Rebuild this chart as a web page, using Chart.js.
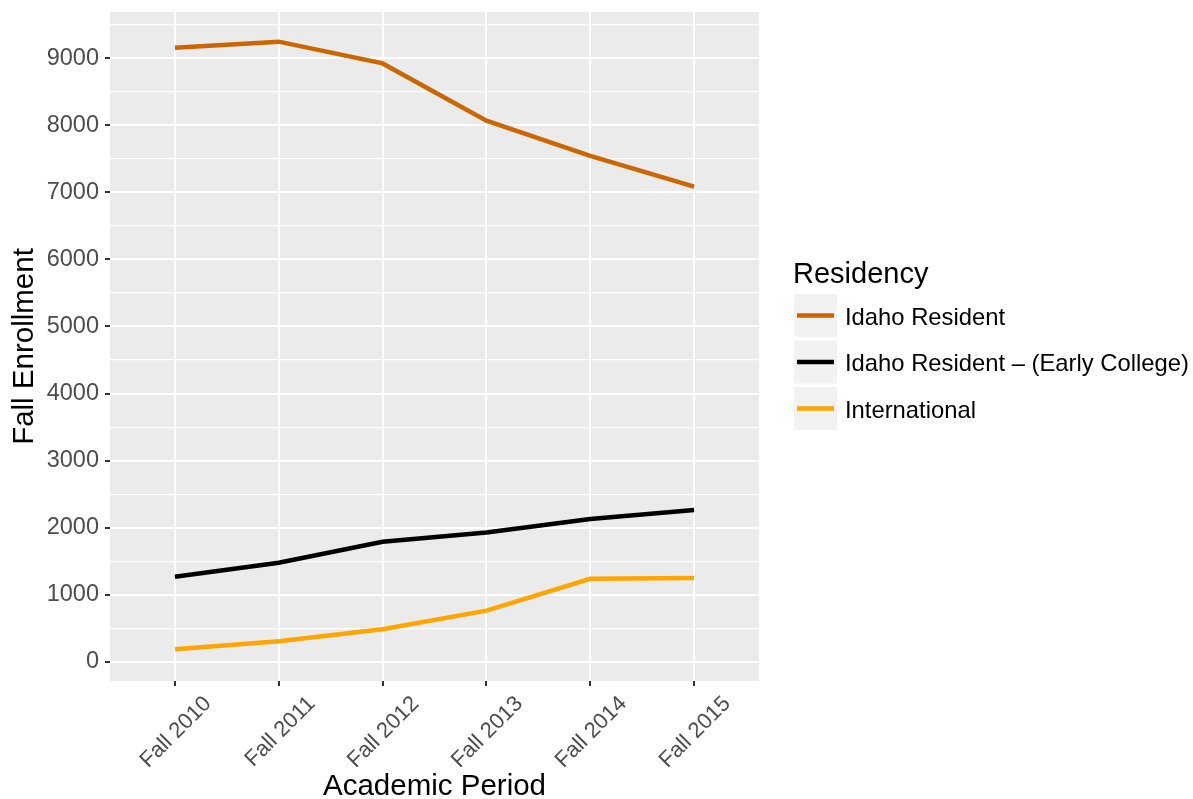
<!DOCTYPE html>
<html lang="en">
<head>
    <meta charset="UTF-8">
    <title>Fall Enrollment by Residency</title>
    <script src="https://cdn.jsdelivr.net/npm/chart.js"></script>
    <style>
        body { margin: 0; background: #fff; }
        #grafico { width: 1193px; height: 799px; }
    </style>
</head>
<body>
    <div id="grafico">
        <canvas id="myChart"></canvas>
    </div>

<script>
    // dados
    const periodos = ['Fall 2010', 'Fall 2011', 'Fall 2012', 'Fall 2013', 'Fall 2014', 'Fall 2015'];
    const idahoResident = [9155, 9244, 8920, 8067, 7541, 7084];
    const earlyCollege = [1270, 1480, 1793, 1930, 2130, 2265];
    const international = [189, 308, 487, 765, 1241, 1250];

    const nomesSeries = ['Idaho Resident', 'Idaho Resident \u2013 (Early College)', 'International'];
    const coresSeries = ['#CC6600', '#000000', '#FFA500'];

    const yTicks = [0, 1000, 2000, 3000, 4000, 5000, 6000, 7000, 8000, 9000];

    const fonte = '"Liberation Sans", Arial, sans-serif';

    function pontos(valores) {
        return valores.map((v, i) => ({ x: i, y: v }));
    }

    // fundo cinza do painel
    const fundoPainel = {
        id: 'fundoPainel',
        beforeDraw(chart) {
            const { ctx, chartArea } = chart;
            ctx.save();
            ctx.fillStyle = '#EBEBEB';
            ctx.fillRect(chartArea.left, chartArea.top, chartArea.right - chartArea.left, chartArea.bottom - chartArea.top);
            ctx.restore();
        }
    };

    // legenda no estilo ggplot
    const legendaGG = {
        id: 'legendaGG',
        afterDraw(chart) {
            const ctx = chart.ctx;
            ctx.save();
            ctx.fillStyle = '#000';
            ctx.font = '29px ' + fonte;
            ctx.textBaseline = 'alphabetic';
            ctx.textAlign = 'left';
            ctx.fillText('Residency', 793, 283);

            chart.data.datasets.forEach((ds, i) => {
                const top = 294 + i * 46.5;
                ctx.fillStyle = '#F2F2F2';
                ctx.fillRect(794, top, 43, 43);
                ctx.strokeStyle = ds.borderColor;
                ctx.lineWidth = 4.5;
                ctx.beginPath();
                ctx.moveTo(797, top + 21.5);
                ctx.lineTo(834, top + 21.5);
                ctx.stroke();
                ctx.fillStyle = '#000';
                ctx.font = '23.8px ' + fonte;
                ctx.textBaseline = 'middle';
                ctx.fillText(ds.label, 845, top + 24);
            });
            ctx.restore();
        }
    };

    const series = [idahoResident, earlyCollege, international];

    const dados = {
        datasets: series.map((valores, i) => ({
            label: nomesSeries[i],
            data: pontos(valores),
            borderColor: coresSeries[i],
            backgroundColor: coresSeries[i],
            borderWidth: 4.5,
            pointRadius: 0,
            tension: 0,
            fill: false
        }))
    };

    const config = {
        type: 'line',
        data: dados,
        plugins: [fundoPainel, legendaGG],
        options: {
            responsive: true,
            maintainAspectRatio: false,
            animation: false,
            layout: { padding: { top: 12, right: 434, left: 0, bottom: 0 } },
            plugins: {
                legend: { display: false },
                tooltip: { enabled: false }
            },
            scales: {
                x: {
                    type: 'linear',
                    min: -0.625,
                    max: 5.625,
                    afterBuildTicks(scale) {
                        scale.ticks = periodos.map((p, i) => ({ value: i }));
                    },
                    afterFit(scale) {
                        scale.height = 118;
                        scale.paddingLeft = 0;
                        scale.paddingRight = 0;
                    },
                    border: { display: false },
                    grid: {
                        color: '#FFFFFF',
                        lineWidth: 2,
                        tickColor: '#333333',
                        tickWidth: 2,
                        tickLength: 5
                    },
                    ticks: {
                        autoSkip: false,
                        maxRotation: 45,
                        minRotation: 45,
                        labelOffset: 33,
                        padding: 5,
                        color: '#4D4D4D',
                        font: { family: fonte, size: 22 },
                        callback: (v) => periodos[v]
                    },
                    title: {
                        display: true,
                        text: 'Academic Period',
                        color: '#000',
                        font: { family: fonte, size: 29.5, lineHeight: 1 },
                        padding: { top: 0, bottom: -3 }
                    }
                },
                y: {
                    min: -283,
                    max: 9686,
                    afterBuildTicks(scale) {
                        const t = [];
                        for (let v = 0; v <= 9500; v += 500) t.push({ value: v });
                        scale.ticks = t;
                    },
                    afterFit(scale) {
                        scale.width = 110;
                        scale.paddingTop = 0;
                        scale.paddingBottom = 0;
                    },
                    border: { display: false },
                    grid: {
                        color: '#FFFFFF',
                        lineWidth: (c) => yTicks.includes(c.tick.value) ? 2 : 1.2,
                        tickColor: (c) => yTicks.includes(c.tick.value) ? '#333333' : 'rgba(0,0,0,0)',
                        tickWidth: 2,
                        tickLength: 5
                    },
                    ticks: {
                        autoSkip: false,
                        padding: 6,
                        color: '#4D4D4D',
                        font: { family: fonte, size: 23.5 },
                        callback: (v) => yTicks.includes(v) ? String(v) : ''
                    },
                    title: {
                        display: true,
                        text: 'Fall Enrollment',
                        color: '#000',
                        font: { family: fonte, size: 29.5, lineHeight: 1 },
                        padding: { top: 10, bottom: 0 }
                    }
                }
            }
        }
    };

    let myChart = new Chart(document.getElementById('myChart'), config);
</script>
</body>
</html>
